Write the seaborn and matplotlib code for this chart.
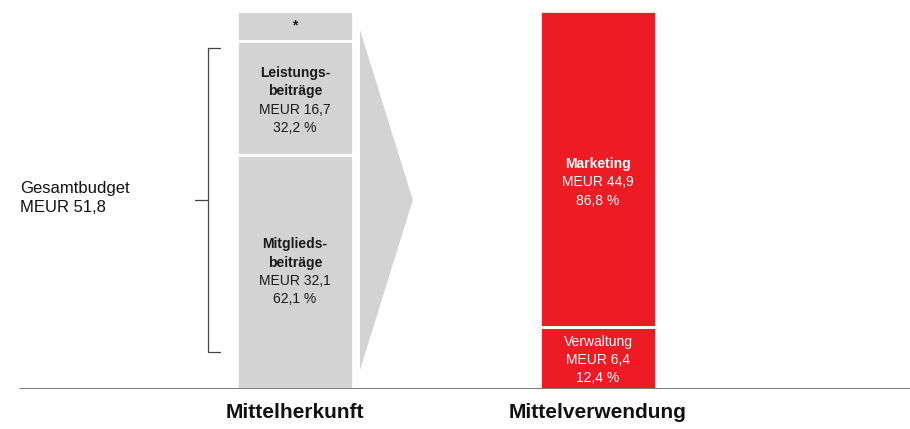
import numpy as np
import pandas as pd
import seaborn as sns
import matplotlib
matplotlib.use("Agg")
from matplotlib import pyplot as plt
from matplotlib.patches import Polygon

# DATA
categories = ["Mittelherkunft", "Mittelverwendung"]
seg_bar = ["Mittelherkunft", "Mittelherkunft", "Mittelherkunft",
           "Mittelverwendung", "Mittelverwendung"]
seg_name = ["Mitglieds-\nbeiträge", "Leistungs-\nbeiträge", "*", "Verwaltung", "Marketing"]
seg_bold = [True, True, False, False, True]
# amounts as labelled
seg_meur = [32.1, 16.7, np.nan, 6.4, 44.9]
seg_pct = [62.1, 32.2, np.nan, 12.4, 86.8]
# segment heights as drawn in the chart (MEUR scale, not strictly proportional)
seg_height = [32.1, 15.6, 4.1, 8.5, 43.3]
total_meur = 51.8

GRAY = "#d3d3d4"
RED = "#ed1c24"
bar_colors = {"Mittelherkunft": GRAY, "Mittelverwendung": RED}
text_colors = {"Mittelherkunft": "#1a1a1a", "Mittelverwendung": "white"}
# small vertical nudges of label blocks (points, negative = down)
label_nudge = {"Marketing": -9.5, "Leistungs-\nbeiträge": -2, "Verwaltung": -1.5}


def de(v):
    return f"{v:.1f}".replace(".", ",")


df = pd.DataFrame({"bar": seg_bar, "name": seg_name, "bold": seg_bold,
                   "meur": seg_meur, "pct": seg_pct, "h": seg_height})
df["bottom"] = df.groupby("bar")["h"].cumsum() - df["h"]

sns.set_style("white")
plt.rcParams["font.family"] = ["Liberation Sans", "DejaVu Sans"]

fig = plt.figure(figsize=(9.1, 4.29), dpi=100)
ax = fig.add_axes([0, 40 / 429, 1, 378 / 429])

bar_w = 0.383
for _, row in df.iterrows():
    sns.barplot(x=[row["bar"]], y=[row["h"]], order=categories,
                color=bar_colors[row["bar"]], saturation=1, width=bar_w,
                bottom=row["bottom"], edgecolor="white", linewidth=2,
                errorbar=None, ax=ax)

# segment labels
line_pt = 13.2
for _, row in df.iterrows():
    xpos = categories.index(row["bar"])
    ymid = row["bottom"] + row["h"] / 2
    col = text_colors[row["bar"]]
    if row["name"] == "*":
        ax.text(xpos, ymid, "*", ha="center", va="center", fontsize=10,
                fontweight="bold", color=col)
        continue
    w = "bold" if row["bold"] else "normal"
    lines = [(l, w) for l in row["name"].split("\n")]
    lines += [("MEUR " + de(row["meur"]), "normal"), (de(row["pct"]) + " %", "normal")]
    n = len(lines)
    nudge = label_nudge.get(row["name"], 0)
    for i, (txt, fw) in enumerate(lines):
        off = ((n - 1) / 2 - i) * line_pt + nudge
        ax.annotate(txt, (xpos, ymid), xytext=(0, off), textcoords="offset points",
                    ha="center", va="center", fontsize=10, fontweight=fw, color=col)

# arrow between the bars
mid = total_meur / 2
arrow = Polygon([(0.2145, mid + 23.3), (0.389, mid), (0.2145, mid - 23.3)],
                closed=True, facecolor=GRAY, edgecolor="none")
ax.add_patch(arrow)

# bracket for total budget
bx, bt, bm = -0.287, -0.2475, -0.330
bcol = "#444444"
ax.plot([bt, bx, bx, bt], [mid + 20.8, mid + 20.8, mid - 20.8, mid - 20.8],
        color=bcol, lw=0.9, solid_joinstyle="miter")
ax.plot([bm, bx], [mid, mid], color=bcol, lw=0.9)
ax.text(-0.9076, mid + 0.3, "Gesamtbudget\nMEUR " + de(total_meur), ha="left",
        va="center", fontsize=12, color="#111111", linespacing=1.3)

# baseline and category labels
ax.axhline(0, xmin=20 / 910, xmax=1, color="#666666", lw=1.2, zorder=5)
for i, c in enumerate(categories):
    ax.text(i, -23 / 378, c, transform=ax.get_xaxis_transform(), ha="center",
            va="center", fontsize=15, fontweight="bold", color="#111111")

ax.set_xlim(-295 / 303, 615 / 303)
ax.set_ylim(0, total_meur)
ax.set_xticks([])
ax.set_yticks([])
ax.set_xlabel("")
ax.set_ylabel("")
sns.despine(ax=ax, left=True, bottom=True)

fig.savefig("out.png", dpi=100)
